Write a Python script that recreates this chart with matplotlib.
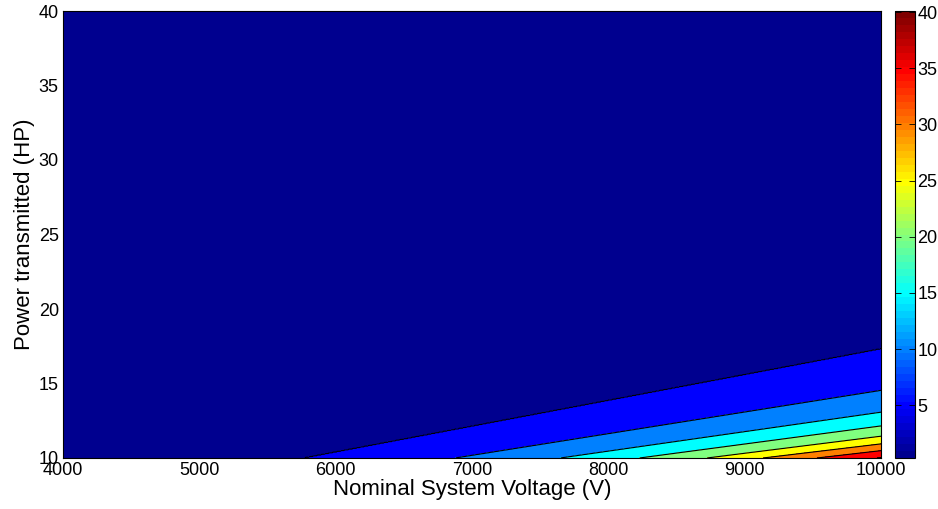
import numpy as np
import matplotlib
matplotlib.use('Agg')
import matplotlib.pyplot as plt
from matplotlib.colors import ListedColormap, Normalize
from matplotlib.cm import ScalarMappable

plt.rcParams['font.family'] = ['Liberation Sans', 'DejaVu Sans']

# contour levels and where each level line meets the bottom edge (P = 10 HP)
LEVELS = [5, 10, 15, 20, 25, 30, 35, 40]
V_AT_BOTTOM = [5775, 6880, 7650, 8230, 8725, 9135, 9530, 9970]
# values at the top-left and bottom-right corners
Z_MIN, Z_MAX = 0.3, 40.3

X_TICKS = [4000, 5000, 6000, 7000, 8000, 9000, 10000]
Y_TICKS = [10, 15, 20, 25, 30, 35, 40]
CBAR_TICKS = [5, 10, 15, 20, 25, 30, 35, 40]


def matlab_jet(m=64):
    """MATLAB's jet colormap (jet.m)."""
    n = int(np.ceil(m / 4))
    u = np.concatenate([np.arange(1, n + 1) / n, np.ones(n - 1), np.arange(n, 0, -1) / n])
    g = int(np.ceil(n / 2)) - (m % 4 == 1) + np.arange(1, len(u) + 1)
    r = g + n
    b = g - n
    J = np.zeros((m, 3))
    for col, idx in ((0, r), (1, g), (2, b)):
        ok = (idx >= 1) & (idx <= m)
        J[idx[ok] - 1, col] = u[ok]
    return ListedColormap(J)


cmap = matlab_jet(64)
norm = Normalize(vmin=Z_MIN, vmax=40.1)

# level lines are rays from the origin: P/V is constant along each one
ratio_pts = [10 / 10000] + [10 / v for v in V_AT_BOTTOM[::-1]] + [40 / 4000]
z_pts = [Z_MAX] + LEVELS[::-1] + [Z_MIN]

V = np.linspace(4000, 10000, 1201)
P = np.linspace(10, 40, 601)
VV, PP = np.meshgrid(V, P)
Z = np.interp(PP / VV, ratio_pts, z_pts)

bounds = [0] + LEVELS + [45]
fill_colors = [cmap(norm(Z_MIN))] + [cmap(norm(L)) for L in LEVELS]

fig = plt.figure(figsize=(9.38, 5.09), dpi=100)
ax = fig.add_axes([63 / 938, 51 / 509, 818 / 938, 447 / 509])
ax.contourf(VV, PP, Z, levels=bounds, colors=fill_colors)
ax.contour(VV, PP, Z, levels=LEVELS, colors='k', linewidths=0.8)

ax.set_xlim(4000, 10000)
ax.set_ylim(10, 40)
ax.set_xticks(X_TICKS)
ax.set_yticks(Y_TICKS)
ax.tick_params(direction='in', length=0, labelsize=13, pad=3)
for sp in ax.spines.values():
    sp.set_linewidth(0.8)
ax.set_xlabel('Nominal System Voltage (V)', fontsize=16, labelpad=0)
ax.set_ylabel('Power transmitted (HP)', fontsize=16, labelpad=3)

cax = fig.add_axes([895 / 938, 51 / 509, 19.5 / 938, 447 / 509])
cb = fig.colorbar(ScalarMappable(norm=norm, cmap=cmap), cax=cax)
cb.set_ticks(CBAR_TICKS)
cb.outline.set_linewidth(0.8)
cax.tick_params(direction='in', length=4, width=0.6, labelsize=13,
                left=True, right=True, pad=2)

fig.savefig('out.png', dpi=100)
